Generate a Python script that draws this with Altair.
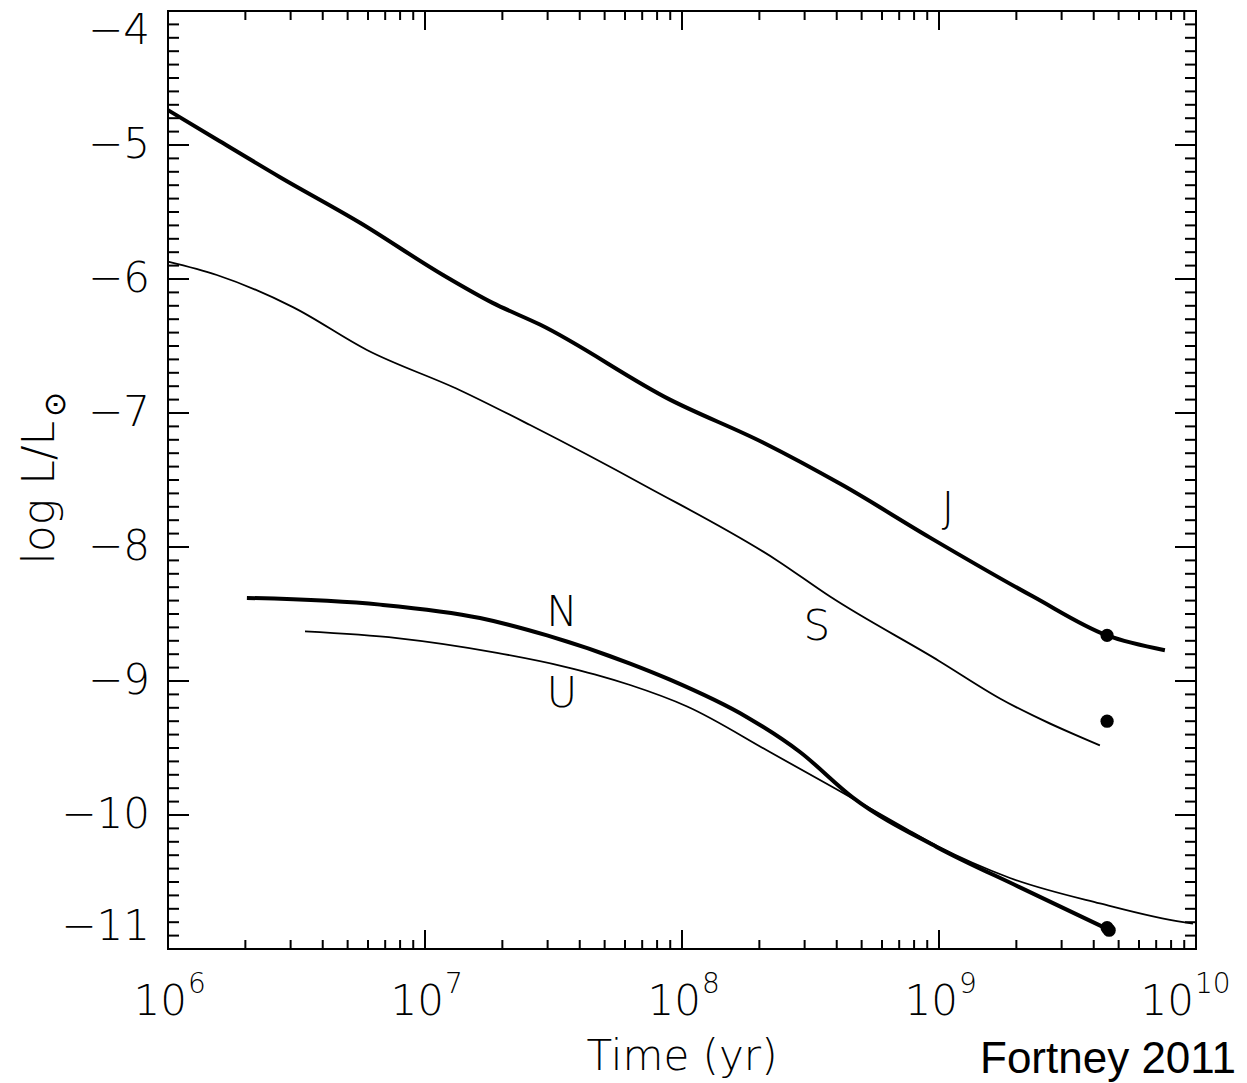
import altair as alt
import pandas as pd

# ---- data (log10 age in years, log L/Lsun) ----
J_LOGT = [6.0, 6.2, 6.436, 6.747, 7.07, 7.265, 7.447, 7.953, 8.315, 8.626, 8.965, 9.366, 9.654, 9.879]
J_LUM = [-4.74, -4.97, -5.24, -5.58, -5.97, -6.18, -6.34, -6.90, -7.22, -7.54, -7.93, -8.37, -8.66, -8.77]

S_LOGT = [6.0, 6.19, 6.486, 6.774, 7.136, 7.409, 7.863, 8.37, 8.576, 9.0, 9.237, 9.626]
S_LUM = [-5.87, -5.97, -6.21, -6.53, -6.83, -7.09, -7.55, -8.10, -8.37, -8.85, -9.13, -9.48]

N_LOGT = [6.307, 6.825, 7.214, 7.475, 7.798, 7.953, 8.253, 8.459, 8.665, 8.992, 9.315, 9.654]
N_LUM = [-8.38, -8.43, -8.53, -8.66, -8.87, -8.99, -9.27, -9.53, -9.87, -10.24, -10.54, -10.85]

U_LOGT = [6.533, 6.891, 7.28, 7.537, 7.66, 7.798, 8.02, 8.342, 8.603, 8.86, 8.992, 9.276, 9.626, 9.95, 9.988]
U_LUM = [-8.63, -8.68, -8.79, -8.89, -8.95, -9.03, -9.19, -9.53, -9.81, -10.09, -10.23, -10.47, -10.66, -10.80, -10.81]

DOT_PLANET = ["J", "S", "U", "N"]
DOT_LOGT = [9.654, 9.654, 9.654, 9.662]
DOT_LUM = [-8.66, -9.30, -10.84, -10.86]

LABEL_TEXT = ["J", "S", "N", "U"]
LABEL_LOGT = [9.035, 8.525, 7.533, 7.533]
LABEL_LUM = [-7.72, -8.60, -8.49, -9.10]

Y_LABELS = [-11, -10, -9, -8, -7, -6, -5, -4]
X_EXPONENTS = [6, 7, 8, 9, 10]

X_TITLE = "Time (yr)"
Y_TITLE_MAIN = "log L/L"
Y_TITLE_SUB = "\u2299"
CREDIT = "Fortney 2011"

# ---- layout ----
W, H = 1028, 938
IDL_FONT = "DejaVu Sans"
IDL_WEIGHT = 200

xs = alt.Scale(type="log", domain=[1e6, 1e10], nice=False)
ys = alt.Scale(domain=[-11, -4], nice=False, zero=False)


def curve_df(name, logt, lum):
    return pd.DataFrame({"planet": name, "t": [10 ** v for v in logt], "L": lum})


thick_df = pd.concat([curve_df("J", J_LOGT, J_LUM), curve_df("N", N_LOGT, N_LUM)])
thin_df = pd.concat([curve_df("S", S_LOGT, S_LUM), curve_df("U", U_LOGT, U_LUM)])
dots_df = pd.DataFrame({"planet": DOT_PLANET, "t": [10 ** v for v in DOT_LOGT], "L": DOT_LUM})
labels_df = pd.DataFrame({"text": LABEL_TEXT, "t": [10 ** v for v in LABEL_LOGT], "L": LABEL_LUM})

X_ENC = alt.X("t:Q", scale=xs, axis=None)
Y_ENC = alt.Y("L:Q", scale=ys, axis=None)

thick = alt.Chart(thick_df).mark_line(color="black", strokeWidth=4, interpolate="monotone").encode(
    x=X_ENC, y=Y_ENC, detail="planet:N",
)
thin = alt.Chart(thin_df).mark_line(color="black", strokeWidth=1.8, interpolate="monotone").encode(
    x=X_ENC, y=Y_ENC, detail="planet:N",
)
dots = alt.Chart(dots_df).mark_circle(color="black", size=175, opacity=1).encode(x=X_ENC, y=Y_ENC)
labels = alt.Chart(labels_df).mark_text(
    font=IDL_FONT, fontWeight=IDL_WEIGHT, fontSize=42, color="black", baseline="middle", align="center"
).encode(x=X_ENC, y=Y_ENC, text="text:N")

# ---- tick marks (inside, all four sides) ----
y_major = pd.DataFrame({"v": Y_LABELS})
y_minor = pd.DataFrame({"v": [round(-11 + 0.1 * i, 1) for i in range(71) if i % 10 != 0]})
x_major = pd.DataFrame({"v": [10.0 ** e for e in X_EXPONENTS]})
x_minor = pd.DataFrame({"v": [k * 10.0 ** d for d in range(6, 10) for k in range(2, 10)]})


def yticks(df, length):
    left = alt.Chart(df).mark_rule(color="black", strokeWidth=2).encode(
        y=alt.Y("v:Q", scale=ys, axis=None), x=alt.value(0), x2=alt.value(length))
    right = alt.Chart(df).mark_rule(color="black", strokeWidth=2).encode(
        y=alt.Y("v:Q", scale=ys, axis=None), x=alt.value(W - length), x2=alt.value(W))
    return [left, right]


def xticks(df, length):
    bottom = alt.Chart(df).mark_rule(color="black", strokeWidth=2).encode(
        x=alt.X("v:Q", scale=xs, axis=None), y=alt.value(H), y2=alt.value(H - length))
    top = alt.Chart(df).mark_rule(color="black", strokeWidth=2).encode(
        x=alt.X("v:Q", scale=xs, axis=None), y=alt.value(0), y2=alt.value(length))
    return [bottom, top]


ticks = yticks(y_major, 21) + yticks(y_minor, 11) + xticks(x_major, 19) + xticks(x_minor, 9)

# ---- y tick labels (first/last flush with the frame) ----
yl_df = pd.DataFrame({"v": Y_LABELS, "lab": ["\u2212" + str(abs(v)) for v in Y_LABELS]})


def ylabel_layer(filt, baseline):
    return alt.Chart(yl_df).transform_filter(filt).mark_text(
        font=IDL_FONT, fontWeight=IDL_WEIGHT, fontSize=42, color="black",
        align="right", baseline=baseline,
    ).encode(y=alt.Y("v:Q", scale=ys, axis=None), x=alt.value(-18), text="lab:N")


ylabels = [
    ylabel_layer("datum.v == -4", "top"),
    ylabel_layer("datum.v == -11", "bottom"),
    ylabel_layer("datum.v > -11 && datum.v < -4", "middle"),
]

# ---- x tick labels with superscript exponents ----
xl_df = pd.DataFrame({
    "t": [10.0 ** e for e in X_EXPONENTS],
    "base": ["10"] * len(X_EXPONENTS),
    "exp": [str(e) for e in X_EXPONENTS],
    "n": X_EXPONENTS,
})


def xlabel_layers(filt, dx_base, dx_sup):
    base = alt.Chart(xl_df).transform_filter(filt).mark_text(
        font=IDL_FONT, fontWeight=IDL_WEIGHT, fontSize=42, color="black",
        align="right", baseline="alphabetic", dx=dx_base,
    ).encode(x=alt.X("t:Q", scale=xs, axis=None), y=alt.value(H + 66), text="base:N")
    sup = alt.Chart(xl_df).transform_filter(filt).mark_text(
        font=IDL_FONT, fontWeight=IDL_WEIGHT, fontSize=28, color="black",
        align="left", baseline="alphabetic", dx=dx_sup,
    ).encode(x=alt.X("t:Q", scale=xs, axis=None), y=alt.value(H + 44), text="exp:N")
    return [base, sup]


xlabels = xlabel_layers("datum.n < 10", 19, 20) + xlabel_layers("datum.n >= 10", -2, -1)

# ---- titles ----
one = pd.DataFrame({"a": [0]})
x_title = alt.Chart(one).mark_text(
    text=X_TITLE, font=IDL_FONT, fontWeight=IDL_WEIGHT, fontSize=42, color="black",
    align="center", baseline="alphabetic",
).encode(x=alt.value(W / 2), y=alt.value(1059))

y_title_main = alt.Chart(one).mark_text(
    text=Y_TITLE_MAIN, font=IDL_FONT, fontWeight=IDL_WEIGHT, fontSize=44, color="black",
    align="right", baseline="alphabetic", angle=270,
).encode(x=alt.value(-114), y=alt.value(410))
y_title_sub = alt.Chart(one).mark_text(
    text=Y_TITLE_SUB, font=IDL_FONT, fontWeight=IDL_WEIGHT, fontSize=30, color="black",
    align="left", baseline="alphabetic", angle=270, dy=11,
).encode(x=alt.value(-114), y=alt.value(406))

credit = alt.Chart(one).mark_text(
    text=CREDIT, font="Liberation Sans", fontSize=44, color="black",
    align="left", baseline="alphabetic",
).encode(x=alt.value(812), y=alt.value(1062))

chart = alt.layer(
    thick, thin, dots, labels, *ticks, *ylabels, *xlabels, x_title, y_title_main, y_title_sub, credit
).properties(
    width=W, height=H,
    autosize=alt.AutoSizeParams(type="none"),
    padding={"left": 168, "top": 11, "right": 51, "bottom": 134},
).configure_view(stroke="black", strokeWidth=2)

chart.save("out.html", embed_options={"renderer": "svg", "actions": False})
